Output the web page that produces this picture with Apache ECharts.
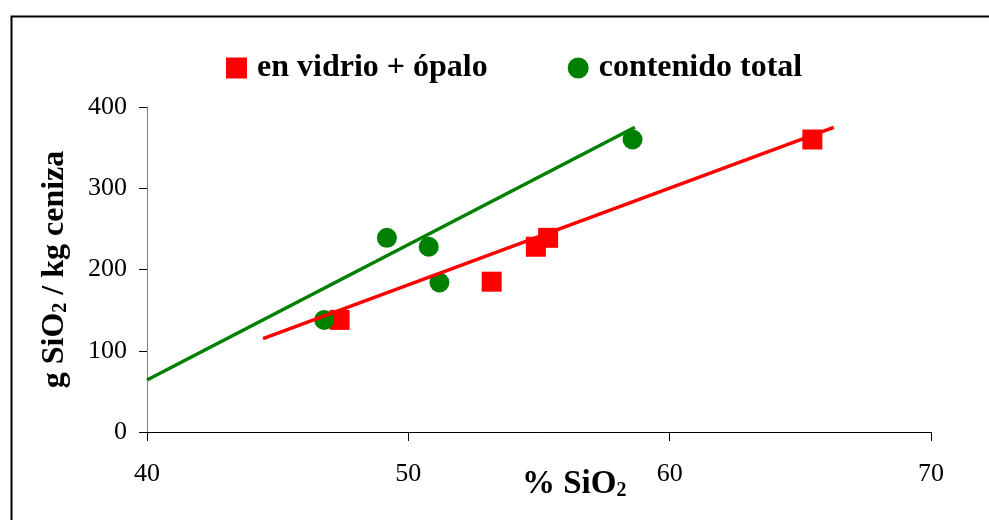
<!DOCTYPE html>
<html><head><meta charset="utf-8">
<script src="https://cdn.jsdelivr.net/npm/echarts@6/dist/echarts.min.js"></script>
<style>html,body{margin:0;padding:0;background:#fff}#c{width:989px;height:520px}</style>
</head><body><div id="c"></div>
<script>
const vidrioX = [47.37, 53.19, 54.88, 55.35, 65.46];
const vidrioY = [138, 185, 228, 239, 360];
const totalX = [46.78, 49.18, 50.78, 51.19, 58.58];
const totalY = [138, 239, 228, 184, 360];
const vidrioTrend = [[44.44, 115], [66.28, 375]];
const totalTrend = [[40, 64], [58.67, 375]];
const seriesNames = ['en vidrio + ópalo', 'contenido total'];
const xTicks = {min: 40, max: 70, interval: 10};
const yTicks = {min: 0, max: 400, interval: 100};

const serif = '"Liberation Serif","Times New Roman",serif';
const chart = echarts.init(document.getElementById('c'), null, {renderer: 'canvas'});
const rich = {
  m: {fontFamily: serif, fontWeight: 'bold', fontSize: 32, color: '#000', lineHeight: 40, verticalAlign: 'bottom'},
  s: {fontFamily: serif, fontWeight: 'bold', fontSize: 20, color: '#000', lineHeight: 30, verticalAlign: 'bottom'}
};
const richX = {
  m: {fontFamily: serif, fontWeight: 'bold', fontSize: 33, color: '#000', lineHeight: 40, verticalAlign: 'bottom'},
  s: {fontFamily: serif, fontWeight: 'bold', fontSize: 20, color: '#000', lineHeight: 30, verticalAlign: 'bottom'}
};
chart.setOption({
  animation: false,
  backgroundColor: '#fff',
  graphic: [
    {type: 'rect', left: 9, top: 14, shape: {width: 1000, height: 530}, style: {fill: 'none', stroke: '#000', lineWidth: 2}, z: 100},
    {type: 'text', left: 522, top: 468, style: {text: '{m|% SiO}{s|2}', rich: richX}}
  ],
  legend: {
    top: 52, left: 226, padding: 0,
    itemWidth: 21, itemHeight: 21, itemGap: 80,
    textStyle: {fontFamily: serif, fontWeight: 'bold', fontSize: 32, color: '#000', padding: [0,0,0,5]},
    data: [{name: seriesNames[0], icon: 'rect'}, {name: seriesNames[1], icon: 'circle'}]
  },
  grid: {left: 147, right: 58, top: 107, bottom: 88},
  xAxis: {
    type: 'value', min: xTicks.min, max: xTicks.max, interval: xTicks.interval,
    axisLine: {onZero: false, lineStyle: {color: '#000', width: 1}},
    axisTick: {show: true, inside: false, length: 9, lineStyle: {color: '#000'}},
    axisLabel: {margin: 29, fontFamily: serif, fontSize: 26, color: '#000'},
    splitLine: {show: false}
  },
  yAxis: {
    type: 'value', min: yTicks.min, max: yTicks.max, interval: yTicks.interval,
    name: '{m|g SiO}{s|2}{m| / kg ceniza}', nameLocation: 'middle', nameGap: 76,
    nameTextStyle: {rich: rich},
    axisLine: {show: true, onZero: false, lineStyle: {color: '#808080', width: 1}},
    axisTick: {show: true, length: 8, lineStyle: {color: '#000'}},
    axisLabel: {margin: 20, fontFamily: serif, fontSize: 26, color: '#000'},
    splitLine: {show: false}
  },
  series: [
    {name: seriesNames[0], type: 'scatter', symbol: 'rect', symbolSize: 20, itemStyle: {color: '#ff0000', opacity: 1},
     data: vidrioX.map((x, i) => [x, vidrioY[i]]), z: 3},
    {name: seriesNames[1], type: 'scatter', symbol: 'circle', symbolSize: 20, itemStyle: {color: '#008000', opacity: 1},
     data: totalX.map((x, i) => [x, totalY[i]]), z: 3},
    {type: 'line', data: vidrioTrend, symbol: 'none', lineStyle: {color: '#ff0000', width: 3.5}, z: 4, silent: true},
    {type: 'line', data: totalTrend, symbol: 'none', lineStyle: {color: '#008000', width: 3.5}, z: 4, silent: true}
  ]
});
</script></body></html>
